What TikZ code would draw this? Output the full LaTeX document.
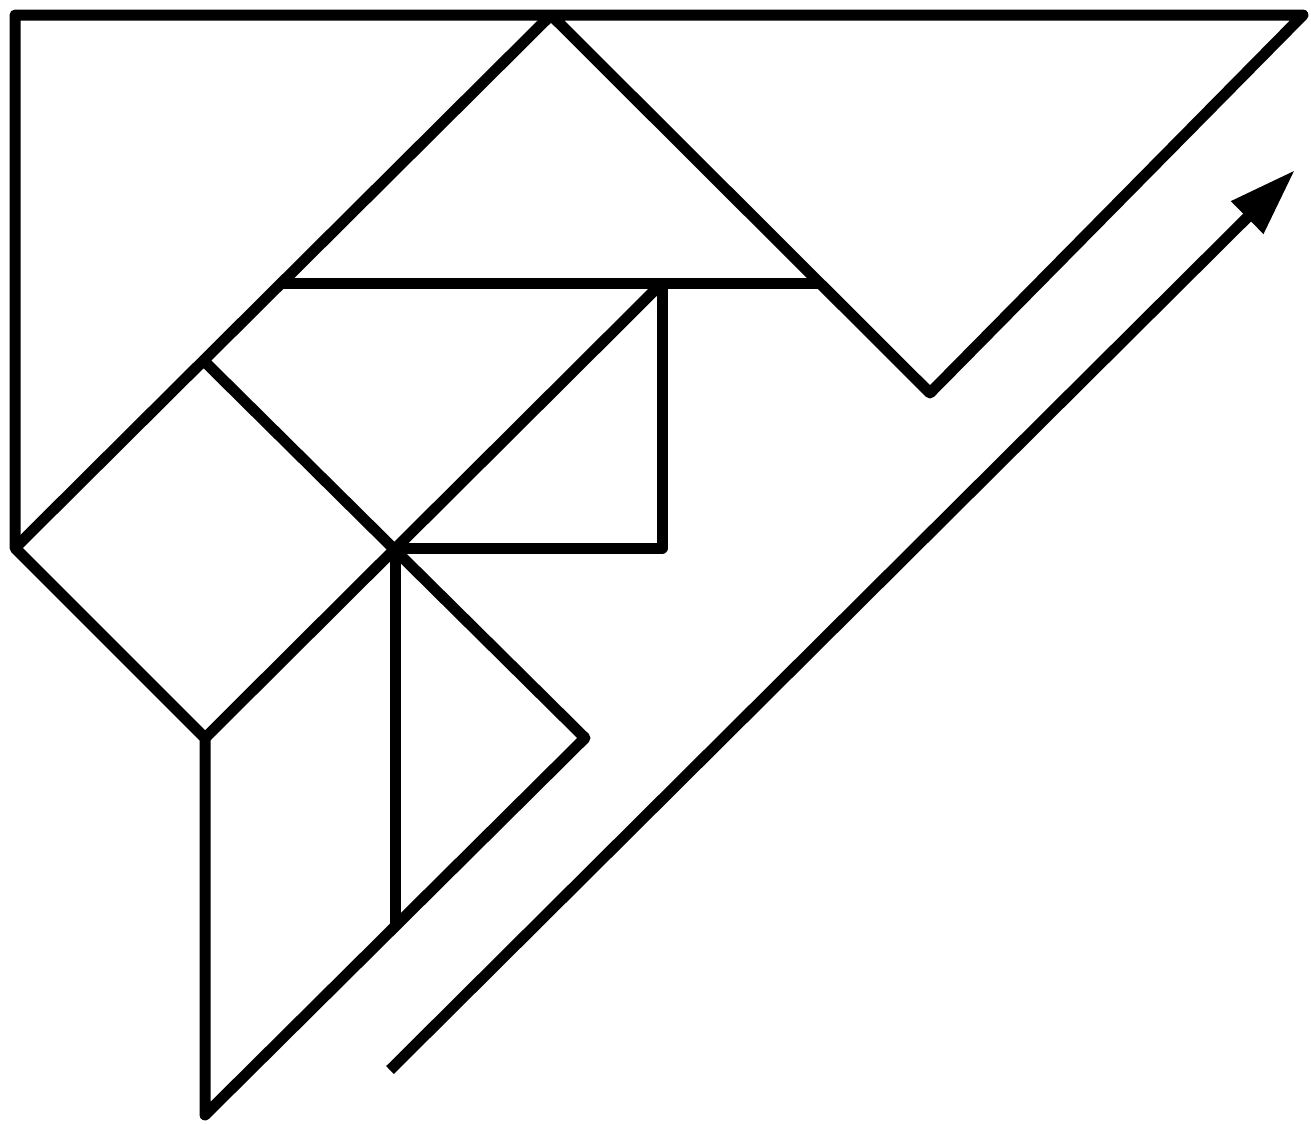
\documentclass[tikz,border=0pt]{standalone}
\usetikzlibrary{arrows.meta}
\begin{document}
\begin{tikzpicture}[x=0.5pt,y=-0.5pt,
  piece/.style={line width=5.5pt,line join=round,line cap=butt}]
\useasboundingbox (0,0) rectangle (1311,1124);
\coordinate (TL) at (15,15);
\coordinate (TR) at (1303,15);
\coordinate (AP) at (551,15);
\coordinate (L) at (15,548);
\coordinate (V) at (930,393);
\coordinate (H1) at (283,283);
\coordinate (H2) at (818,283);
\coordinate (P) at (662,283);
\coordinate (Q) at (662,548);
\coordinate (C) at (395,548);
\coordinate (S) at (205,738);
\coordinate (K) at (205,362);
\coordinate (R) at (585,738);
\coordinate (B) at (205,1115);
\coordinate (D) at (395,928);
\coordinate (A1) at (390,1070);
\coordinate (A2) at (1295,170);
\draw[piece] (AP) -- (V) -- (TR) -- (TL) -- (L) -- (S) -- (B) -- (R) -- (K);
\draw[piece] (L) -- (AP);
\draw[piece] (H1) -- (H2);
\draw[piece] (P) -- (Q) -- (C);
\draw[piece] (P) -- (S);
\draw[piece] (C) -- (D);
\draw[piece,-{Triangle[length=33.75pt,width=21.5pt]}] (A1) -- (A2);
\end{tikzpicture}
\end{document}
